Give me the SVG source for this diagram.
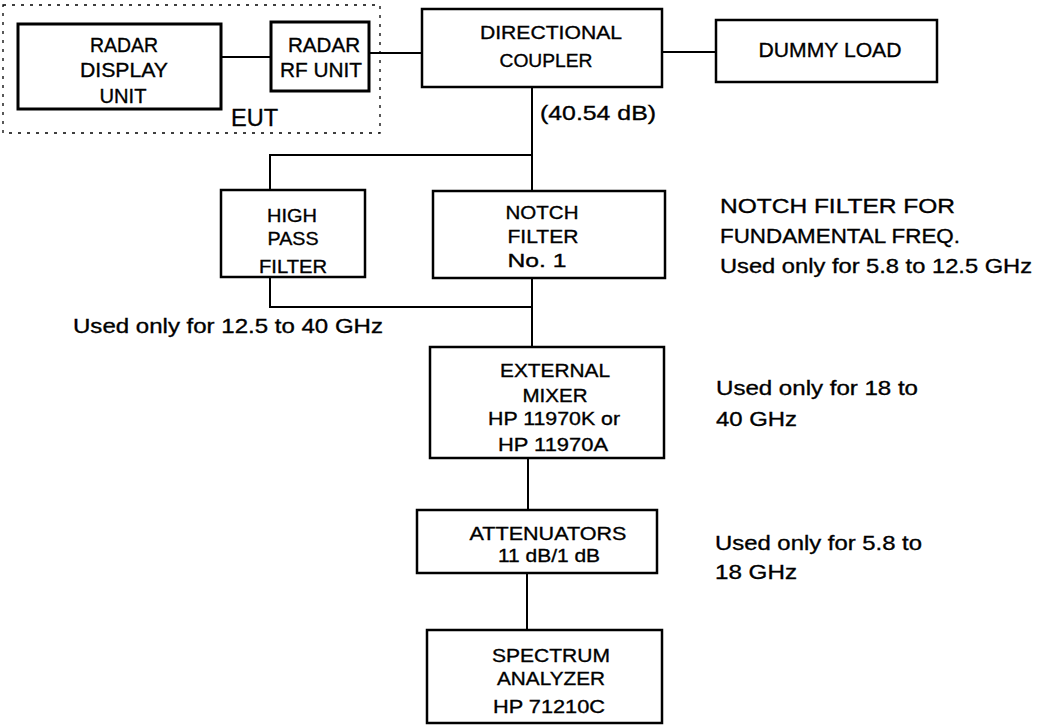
<svg xmlns="http://www.w3.org/2000/svg" width="1038" height="726" viewBox="0 0 1038 726">
<style>
.box{fill:#fff;stroke:#000;stroke-width:2.5}
.thick{stroke-width:3}
.ln{fill:none;stroke:#000;stroke-width:2}
.eut{fill:none;stroke:#000;stroke-width:1.3;stroke-dasharray:3 6}
text{font-family:"Liberation Sans",Arial,sans-serif;fill:#000;stroke:#000;stroke-width:0.35}
.c{text-anchor:middle;font-size:19px}
.r{font-size:21px}
.s{font-size:21px}
</style>
<rect width="1038" height="726" fill="#fff"/>
<rect class="eut" x="3" y="5" width="377" height="128"/>
<g id="connectors">
<line class="ln" x1="221" y1="57" x2="271" y2="57" stroke-width="3"/>
<line class="ln" x1="369" y1="53" x2="422" y2="53"/>
<line class="ln" x1="662" y1="52" x2="716" y2="52"/>
<line class="ln" x1="532" y1="87" x2="532" y2="191"/>
<polyline class="ln" points="532,155 270,155 270,190"/>
<polyline class="ln" points="270,277 270,307 532,307"/>
<line class="ln" x1="532" y1="278" x2="532" y2="347"/>
<line class="ln" x1="528" y1="458" x2="528" y2="510"/>
<line class="ln" x1="527" y1="573" x2="527" y2="630"/>
</g>
<g id="radar-display">
<rect class="box thick" x="18" y="24" width="203" height="85"/>
<text class="c r" x="124" y="52" textLength="68" lengthAdjust="spacingAndGlyphs">RADAR</text>
<text class="c r" x="124" y="77" textLength="88" lengthAdjust="spacingAndGlyphs">DISPLAY</text>
<text class="c r" x="123" y="103" textLength="47" lengthAdjust="spacingAndGlyphs">UNIT</text>
</g>
<g id="radar-rf">
<rect class="box thick" x="271" y="22" width="98" height="69"/>
<text class="c r" x="324" y="52" textLength="72" lengthAdjust="spacingAndGlyphs">RADAR</text>
<text class="c r" x="321" y="77" textLength="82" lengthAdjust="spacingAndGlyphs">RF UNIT</text>
</g>
<g id="eut-label">
<text x="231" y="126" font-size="23" textLength="47" lengthAdjust="spacingAndGlyphs">EUT</text>
</g>
<g id="coupler">
<rect class="box" x="422" y="9" width="240" height="78"/>
<text class="c" x="551" y="39" textLength="142" lengthAdjust="spacingAndGlyphs">DIRECTIONAL</text>
<text class="c" x="546" y="67" textLength="93" lengthAdjust="spacingAndGlyphs">COUPLER</text>
</g>
<g id="dummy-load">
<rect class="box" x="716" y="20" width="221" height="62"/>
<text class="c r" x="830" y="57" textLength="143" lengthAdjust="spacingAndGlyphs">DUMMY LOAD</text>
</g>
<g id="coupling-label">
<text class="s" x="540" y="120" textLength="116" lengthAdjust="spacingAndGlyphs">(40.54 dB)</text>
</g>
<g id="high-pass">
<rect class="box" x="221" y="190" width="144" height="87"/>
<text class="c" x="292" y="222" textLength="50" lengthAdjust="spacingAndGlyphs">HIGH</text>
<text class="c" x="293" y="245" textLength="51" lengthAdjust="spacingAndGlyphs">PASS</text>
<text class="c" x="293" y="273" textLength="68" lengthAdjust="spacingAndGlyphs">FILTER</text>
</g>
<g id="notch">
<rect class="box" x="433" y="191" width="232" height="87"/>
<text class="c" x="542" y="219" textLength="73" lengthAdjust="spacingAndGlyphs">NOTCH</text>
<text class="c" x="543" y="243" textLength="71" lengthAdjust="spacingAndGlyphs">FILTER</text>
<text class="c" x="537" y="267" textLength="59" lengthAdjust="spacingAndGlyphs">No. 1</text>
</g>
<g id="notch-note">
<text class="s" x="720" y="213" textLength="235" lengthAdjust="spacingAndGlyphs">NOTCH FILTER FOR</text>
<text class="s" x="720" y="243" textLength="240" lengthAdjust="spacingAndGlyphs">FUNDAMENTAL FREQ.</text>
<text class="s" x="720" y="273" textLength="312" lengthAdjust="spacingAndGlyphs">Used only for 5.8 to 12.5 GHz</text>
</g>
<g id="hpf-note">
<text class="s" x="73" y="333" textLength="310" lengthAdjust="spacingAndGlyphs">Used only for 12.5 to 40 GHz</text>
</g>
<g id="mixer">
<rect class="box" x="430" y="347" width="234" height="111"/>
<text class="c" x="555" y="377" textLength="110" lengthAdjust="spacingAndGlyphs">EXTERNAL</text>
<text class="c" x="555" y="402" textLength="65" lengthAdjust="spacingAndGlyphs">MIXER</text>
<text class="c" x="554" y="425" textLength="132" lengthAdjust="spacingAndGlyphs">HP 11970K or</text>
<text class="c" x="553" y="451" textLength="110" lengthAdjust="spacingAndGlyphs">HP 11970A</text>
</g>
<g id="mixer-note">
<text class="s" x="716" y="395" textLength="202" lengthAdjust="spacingAndGlyphs">Used only for 18 to</text>
<text class="s" x="716" y="426" textLength="81" lengthAdjust="spacingAndGlyphs">40 GHz</text>
</g>
<g id="attenuators">
<rect class="box" x="417" y="510" width="240" height="63"/>
<text class="c" x="548" y="540" textLength="157" lengthAdjust="spacingAndGlyphs">ATTENUATORS</text>
<text class="c" x="549" y="562" textLength="102" lengthAdjust="spacingAndGlyphs">11 dB/1 dB</text>
</g>
<g id="attenuator-note">
<text class="s" x="715" y="550" textLength="207" lengthAdjust="spacingAndGlyphs">Used only for 5.8 to</text>
<text class="s" x="715" y="579" textLength="82" lengthAdjust="spacingAndGlyphs">18 GHz</text>
</g>
<g id="spectrum">
<rect class="box" x="427" y="630" width="235" height="93"/>
<text class="c" x="551" y="662" textLength="118" lengthAdjust="spacingAndGlyphs">SPECTRUM</text>
<text class="c" x="551" y="685" textLength="108" lengthAdjust="spacingAndGlyphs">ANALYZER</text>
<text class="c" x="549" y="713" textLength="112" lengthAdjust="spacingAndGlyphs">HP 71210C</text>
</g>
</svg>
